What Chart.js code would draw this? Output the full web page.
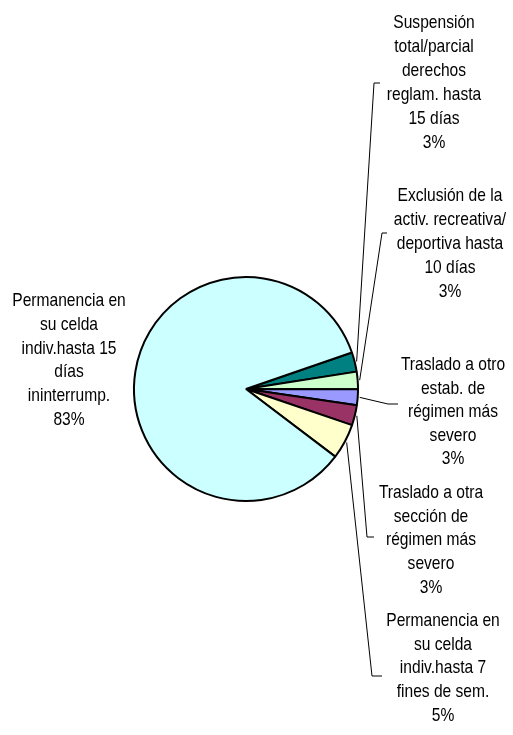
<!DOCTYPE html>
<html>
<head>
<meta charset="utf-8">
<script src="https://cdn.jsdelivr.net/npm/chart.js@4"></script>
<style>
  html, body { margin: 0; padding: 0; background: #fff; }
  canvas { display: block; }
</style>
</head>
<body>
<canvas id="chart" width="513" height="735"></canvas>
<script>
// --- data (clockwise from the teal slice) ---
const categories = [
  ['Suspensión', 'total/parcial', 'derechos', 'reglam. hasta', '15 días'],
  ['Exclusión de la', 'activ. recreativa/', 'deportiva hasta', '10 días'],
  ['Traslado a otro', 'estab. de', 'régimen más', 'severo'],
  ['Traslado a otra', 'sección de', 'régimen más', 'severo'],
  ['Permanencia en', 'su celda', 'indiv.hasta 7', 'fines de sem.'],
  ['Permanencia en', 'su celda', 'indiv.hasta 15', 'días', 'ininterrump.']
];
const values = [2.8, 2.5, 2.3, 2.9, 5.1, 84.4];
const percentLabels = ['3%', '3%', '3%', '3%', '5%', '83%'];
const colors = ['#008080', '#CCFFCC', '#9999FF', '#993366', '#FFFFCC', '#CCFFFF'];

// label placement: text centre x, first baseline, line step, leader elbow
const labelPos = [
  { x: 434, y: 28, step: 24, elbow: [374, 83], tick: 380 },
  { x: 450, y: 201, step: 24, elbow: [382, 233], tick: 387 },
  { x: 453, y: 370, step: 23.5, elbow: [388, 404], tick: 398 },
  { x: 431, y: 498, step: 23.7, elbow: [367, 537], tick: 374 },
  { x: 443, y: 626, step: 23.7, elbow: [372, 676], tick: 382 },
  { x: 69, y: 306, step: 23.8, elbow: null }
];

// no Arial Narrow here: squeeze Liberation Sans horizontally instead
const FONT = "19px 'Liberation Sans', Arial, sans-serif";
const SQUEEZE = 0.82;

const pieLabels = {
  id: 'pieLabels',
  afterDraw(chart) {
    const ctx = chart.ctx;
    const arcs = chart.getDatasetMeta(0).data;
    ctx.save();
    ctx.font = FONT;
    ctx.fillStyle = '#000';
    ctx.textAlign = 'center';
    ctx.textBaseline = 'alphabetic';

    arcs.forEach((arc, i) => {
      const p = labelPos[i];
      const lines = categories[i].concat([percentLabels[i]]);
      ctx.save();
      ctx.translate(p.x, 0);
      ctx.scale(SQUEEZE, 1);
      lines.forEach((t, k) => ctx.fillText(t, 0, p.y + k * p.step));
      ctx.restore();

      if (!p.elbow) return;
      const a = (arc.startAngle + arc.endAngle) / 2;
      const r = arc.outerRadius + 2;
      const ax = arc.x + Math.cos(a) * r;
      const ay = arc.y + Math.sin(a) * r;
      ctx.beginPath();
      ctx.lineWidth = 1;
      ctx.strokeStyle = '#000';
      ctx.moveTo(ax, ay);
      ctx.lineTo(p.elbow[0], p.elbow[1]);
      ctx.lineTo(p.tick, p.elbow[1]);
      ctx.stroke();
    });
    ctx.restore();
  }
};

new Chart(document.getElementById('chart'), {
  type: 'pie',
  data: {
    labels: categories.map(c => c.join(' ')),
    datasets: [{
      data: values,
      backgroundColor: colors,
      borderColor: '#000',
      borderWidth: 2
    }]
  },
  options: {
    responsive: false,
    animation: false,
    rotation: 71,
    layout: { padding: { left: 133, top: 276, right: 154, bottom: 233 } },
    plugins: {
      legend: { display: false },
      tooltip: { enabled: false }
    }
  },
  plugins: [pieLabels]
});
</script>
</body>
</html>
